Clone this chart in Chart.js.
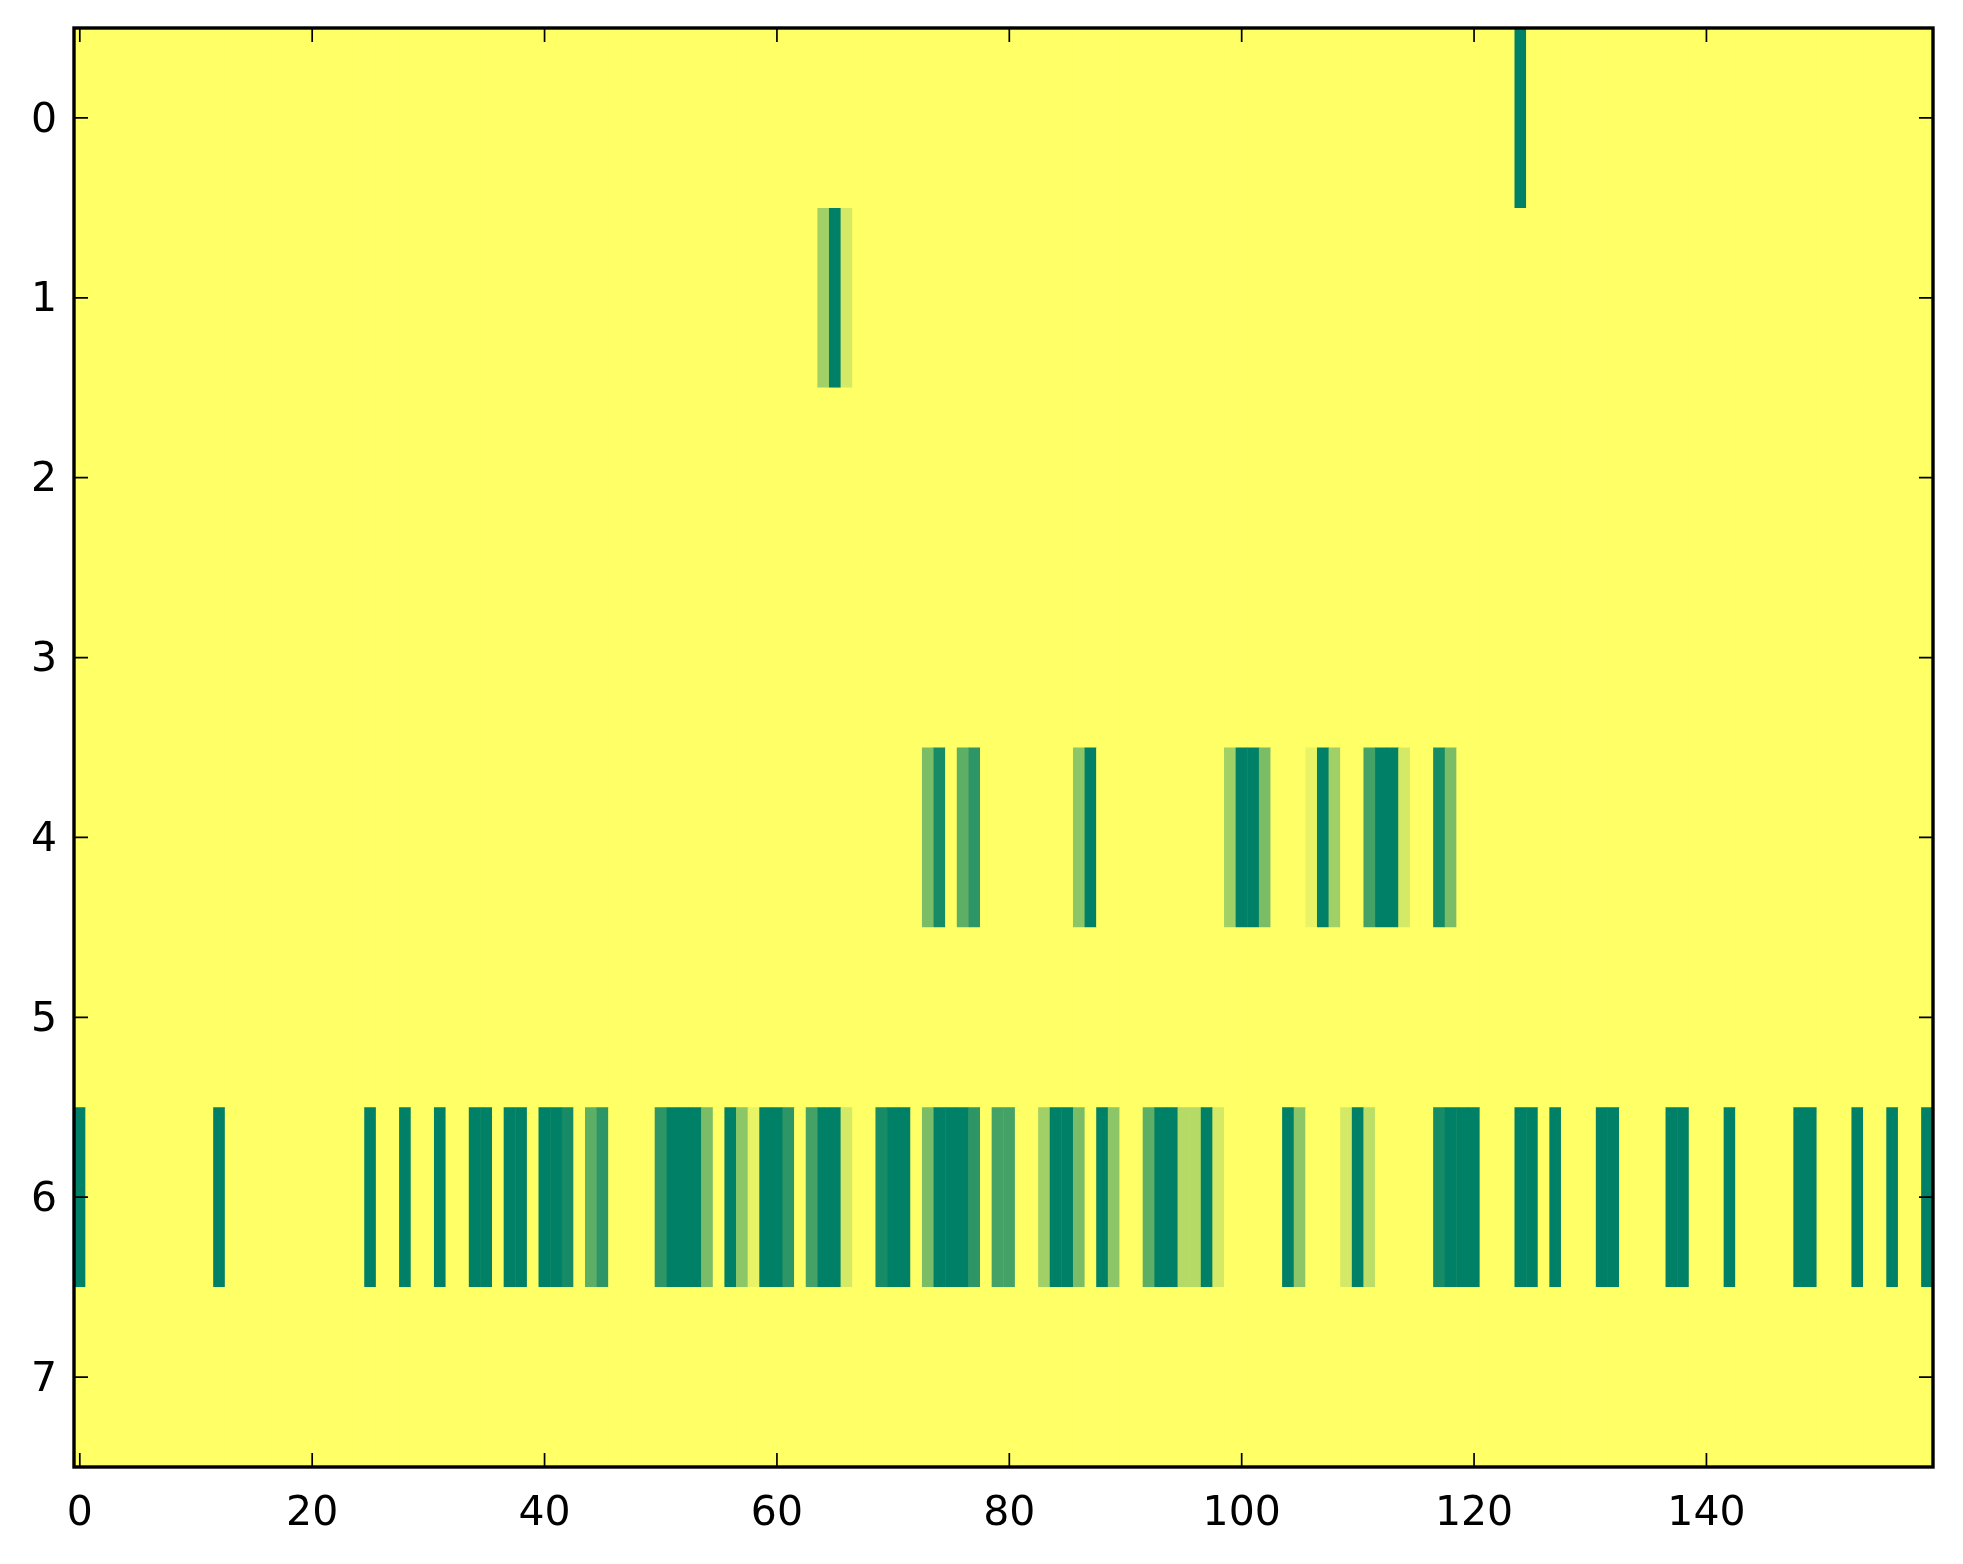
<!DOCTYPE html>
<html>
<head>
<meta charset="utf-8">
<script src="https://cdn.jsdelivr.net/npm/chart.js@4.4.1/dist/chart.umd.min.js"></script>
<style>
  html, body { margin: 0; padding: 0; background: #ffffff; }
  #heatmap { display: block; }
</style>
</head>
<body>
<canvas id="heatmap" width="1963" height="1564"></canvas>
<script>

const nCols = 160
const nRows = 8
const xTicks = [0, 20, 40, 60, 80, 100, 120, 140]
const yTicks = [0, 1, 2, 3, 4, 5, 6, 7]

// non zero cells of each row, [column, value]
const row0 = [[124, 1]]
const row1 = [[64, 0.37], [65, 1], [66, 0.17]]
const row4 = [
    [73, 0.52], [74, 0.91], [76, 0.63], [77, 0.82], [86, 0.45], [87, 1],
    [99, 0.37], [100, 1], [101, 1], [102, 0.52], [106, 0.09], [107, 1],
    [108, 0.37], [111, 0.73], [112, 1], [113, 1], [114, 0.17], [117, 0.91], [118, 0.52]
]
const row6 = [
    [0, 1], [12, 1], [25, 1], [28, 1], [31, 1], [34, 1], [35, 1], [37, 1], [38, 1],
    [40, 1], [41, 1], [42, 0.91], [44, 0.63], [45, 0.82], [50, 0.82], [51, 1], [52, 1],
    [53, 1], [54, 0.52], [56, 1], [57, 0.45], [58, 0.09], [59, 1], [60, 1], [61, 0.82],
    [63, 0.73], [64, 1], [65, 1], [66, 0.17], [69, 0.91], [70, 1], [71, 1], [73, 0.52],
    [74, 1], [75, 1], [76, 1], [77, 0.82], [79, 0.73], [80, 0.73], [83, 0.37], [84, 1],
    [85, 1], [86, 0.52], [88, 1], [89, 0.45], [92, 0.63], [93, 1], [94, 1], [95, 0.29],
    [96, 0.29], [97, 1], [98, 0.17], [104, 1], [105, 0.45], [109, 0.17], [110, 1],
    [111, 0.26], [117, 0.91], [118, 1], [119, 1], [120, 1], [124, 1], [125, 1], [127, 1],
    [131, 1], [132, 1], [137, 1], [138, 1], [142, 1], [148, 1], [149, 1], [153, 1],
    [156, 1], [159, 1]
]
const rowCells = [row0, row1, [], [], row4, [], row6, []]

// summer_r colormap
function summerR(v){
    const r = Math.round(255 * (1 - v))
    const g = Math.round(255 * (1 - v / 2))
    return 'rgb(' + r + ',' + g + ',102)'
}

let cells = []
for (let r = 0; r < nRows; r++) {
    let rowVals = new Array(nCols).fill(0)
    rowCells[r].forEach(c => { rowVals[c[0]] = c[1] })
    for (let c = 0; c < nCols; c++) {
        cells.push({ x: c, y: [r - 0.5, r + 0.5], v: rowVals[c] })
    }
}

const tickFont = { family: 'DejaVu Sans', size: 41 }

const frame = {
    id: 'frame',
    beforeDatasetsDraw(chart){
        const a = chart.chartArea
        const ctx = chart.ctx
        ctx.save()
        ctx.fillStyle = summerR(0)
        ctx.fillRect(a.left, a.top, a.right - a.left, a.bottom - a.top)
        ctx.restore()
    },
    afterDraw(chart){
        const a = chart.chartArea
        const ctx = chart.ctx
        const xs = chart.scales.x
        const ys = chart.scales.y
        const len = 14
        ctx.save()
        ctx.strokeStyle = '#000000'
        ctx.lineWidth = 1.7
        ctx.beginPath()
        xTicks.forEach(t => {
            const px = xs.getPixelForValue(t)
            ctx.moveTo(px, a.bottom); ctx.lineTo(px, a.bottom - len)
            ctx.moveTo(px, a.top); ctx.lineTo(px, a.top + len)
        })
        yTicks.forEach(t => {
            const py = ys.getPixelForValue(t)
            ctx.moveTo(a.left, py); ctx.lineTo(a.left + len, py)
            ctx.moveTo(a.right, py); ctx.lineTo(a.right - len, py)
        })
        ctx.stroke()
        ctx.lineWidth = 3.4
        ctx.strokeRect(a.left, a.top, a.right - a.left, a.bottom - a.top)
        ctx.restore()
    }
}

let ctx = document.getElementById('heatmap').getContext('2d')
let myChart = new Chart(ctx, {
    type: 'bar',
    data: {
        datasets: [{
            data: cells,
            backgroundColor: (c) => summerR(c.raw ? c.raw.v : 0),
            borderWidth: 0,
            barPercentage: 1.04,
            categoryPercentage: 1,
            clip: 0
        }]
    },
    options: {
        responsive: false,
        devicePixelRatio: 1,
        animation: false,
        events: [],
        layout: { padding: { left: 0, top: 28, right: 30, bottom: 0 } },
        plugins: {
            legend: { display: false },
            tooltip: { enabled: false }
        },
        scales: {
            x: {
                type: 'linear',
                offset: false,
                min: -0.5,
                max: 159.5,
                grid: { display: false, offset: false },
                border: { display: false },
                ticks: { color: '#000000', font: tickFont, padding: 15, maxRotation: 0 },
                afterBuildTicks: (s) => { s.ticks = xTicks.map(v => ({ value: v })) },
                afterFit: (s) => {
                    s.height = 97
                    s.paddingLeft = 0
                    s.paddingRight = 0
                }
            },
            y: {
                type: 'linear',
                reverse: true,
                min: -0.5,
                max: 7.5,
                grid: { display: false },
                border: { display: false },
                ticks: { color: '#000000', font: tickFont, padding: 9, labelOffset: 3 },
                afterBuildTicks: (s) => { s.ticks = yTicks.map(v => ({ value: v })) },
                afterFit: (s) => {
                    s.width = 74
                    s.paddingTop = 0
                    s.paddingBottom = 0
                }
            }
        }
    },
    plugins: [frame]
});

</script>
</body>
</html>
